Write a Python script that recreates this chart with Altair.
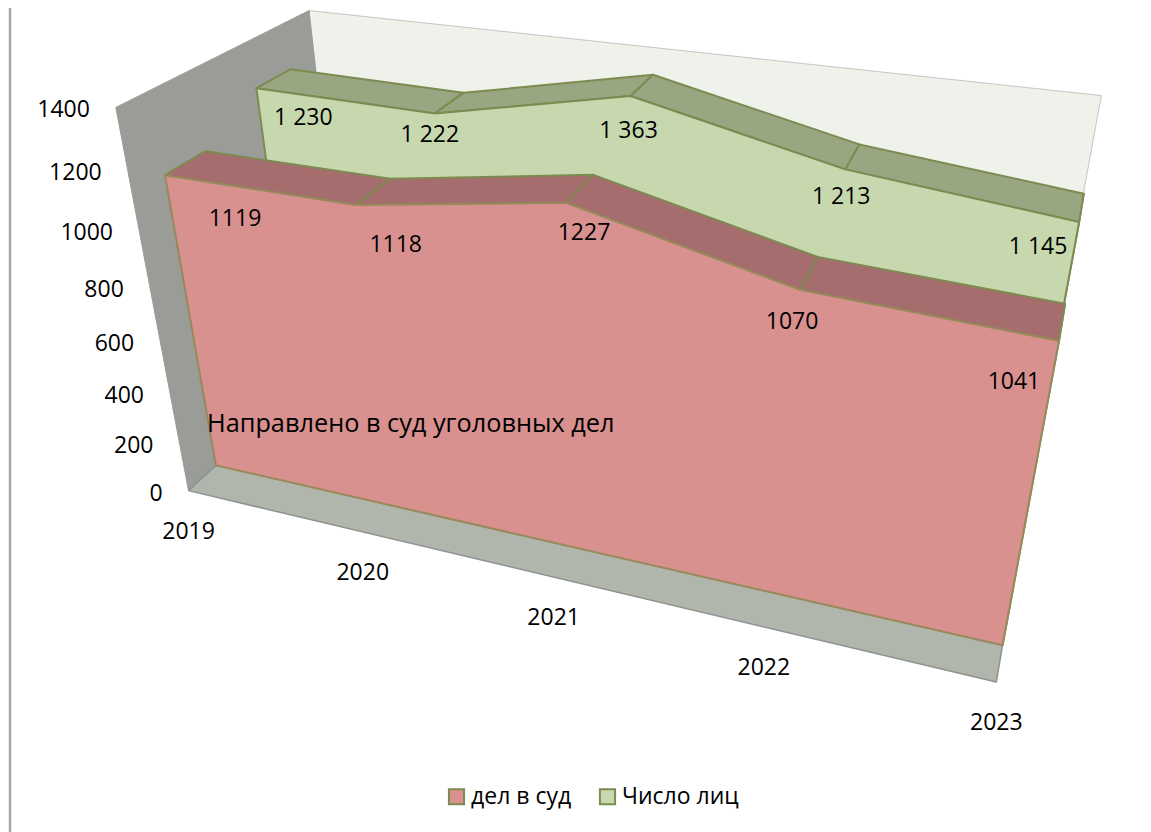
import altair as alt, numpy as np, pandas as pd

YEARS = ["2019", "2020", "2021", "2022", "2023"]
CASES = [1119, 1118, 1227, 1070, 1041]
PERSONS = [1230, 1222, 1363, 1213, 1145]
AXIS_TICKS = [0, 200, 400, 600, 800, 1000, 1200, 1400]
SERIES = ["дел в суд", "Число лиц"]
NOTE = "Направлено в суд уголовных дел"

# camera of the 3-D view: (year index, value/1000, depth) -> page pixels
CAMERA = np.array([
    [153.947, -62.2271, 43.4232, 215.921],
    [17.4796, -277.071, -15.7078, 465.369],
    [-0.0425992, -0.101225, 0.0366406, 1.0],
])
GAP = 0.75          # floor/wall margin, in series depths
GREEN_D = 1 + 2 * GAP
BACK_D = 2 + 3 * GAP

def proj(t, v, d):
    h = CAMERA @ np.array([t, v / 1000, d, 1.0])
    return h[0] / h[2], h[1] / h[2]

W, H = 1135, 824
xs = alt.Scale(domain=[8, 8 + W], range=[0, W], nice=False, zero=False)
ys = alt.Scale(domain=[8, 8 + H], range=[0, H], nice=False, zero=False)
X = alt.X("px:Q", scale=xs, axis=None)
Y = alt.Y("py:Q", scale=ys, axis=None)

EDGE = "#7d8a50"
RED, RED_TOP, GREEN, GREEN_TOP = "#d8918f", "#a66d6f", "#c8d8ae", "#98a681"

def poly(pts, fill, stroke, sw=2.0):
    rows = [dict(i=i, px=proj(*p)[0], py=proj(*p)[1]) for i, p in enumerate(pts + pts[:1])]
    return alt.Chart(pd.DataFrame(rows)).mark_line(
        fill=fill, stroke=stroke, strokeWidth=sw, strokeJoin="round"
    ).encode(x=X, y=Y, order="i:Q")

layers = [
    poly([(0, 0, BACK_D), (4, 0, BACK_D), (4, 1400, BACK_D), (0, 1400, BACK_D)], "#eef2ea", "#c4c6c2", 1),
    poly([(0, 0, -GAP), (0, 0, BACK_D), (0, 1400, BACK_D), (0, 1400, -GAP)], "#9a9c98", "#9a9c98", 1),
    poly([(0, 0, -GAP), (4, 0, -GAP), (4, 0, BACK_D), (0, 0, BACK_D)], "#b0b6ac", "#8f9290", 1.5),
]

def series(vals, d0, face, top, face_edge):
    out = [poly([(4, 0, d0), (4, vals[4], d0), (4, vals[4], d0 + 1), (4, 0, d0 + 1)], top, EDGE)]
    for i in range(4):
        out.append(poly([(i, vals[i], d0), (i + 1, vals[i + 1], d0),
                         (i + 1, vals[i + 1], d0 + 1), (i, vals[i], d0 + 1)], top, EDGE))
    pts = [(0, 0, d0)] + [(i, vals[i], d0) for i in range(5)] + [(4, 0, d0)]
    out.append(poly(pts, face, face_edge))
    return out

layers += series(PERSONS, GREEN_D, GREEN, GREEN_TOP, EDGE)
layers += series(CASES, 0, RED, RED_TOP, "#97895a")

FONT = "Open Sans"
FS = 23

def text(rows, **kw):
    return alt.Chart(pd.DataFrame(rows)).mark_text(
        font=FONT, fontSize=FS, color="#000", baseline="middle", **kw
    ).encode(x=X, y=Y, text="s:N")

tick = [dict(px=proj(0, v, -GAP)[0] - 26, py=proj(0, v, -GAP)[1] + 3, s=str(v)) for v in AXIS_TICKS]
cat = [dict(px=proj(i, 0, -GAP)[0], py=proj(i, 0, -GAP)[1] + 41, s=YEARS[i]) for i in range(5)]
layers += [text(tick, align="right"), text(cat, align="center")]

RED_OFF = [(70, 44), (40, 40), (18, 30), (-8, 32), (-45, 41)]
GREEN_OFF = [(47, 30), (-5, 22), (-2, 35), (-4, 28), (-41, 25)]
rl = [dict(px=proj(i, CASES[i], 0)[0] + RED_OFF[i][0], py=proj(i, CASES[i], 0)[1] + RED_OFF[i][1],
           s=str(CASES[i])) for i in range(5)]
gl = [dict(px=proj(i, PERSONS[i], GREEN_D)[0] + GREEN_OFF[i][0], py=proj(i, PERSONS[i], GREEN_D)[1] + GREEN_OFF[i][1],
           s=f"{PERSONS[i]:,}".replace(",", " ")) for i in range(5)]
layers += [text(rl, align="center"), text(gl, align="center")]

layers.append(alt.Chart(pd.DataFrame({"s": [NOTE]})).mark_text(
    font=FONT, fontSize=25.3, align="left", baseline="middle", color="#000"
).encode(x=alt.value(199), y=alt.value(416), text="s:N"))

# sheet edge on the left
layers.append(alt.Chart(pd.DataFrame({"a": [0]})).mark_rule(color="#a6a6a6", strokeWidth=2.5).encode(
    x=alt.value(2), y=alt.value(0), y2=alt.value(H)))

leg = alt.Chart(pd.DataFrame({"s": SERIES, "px": [300, 300], "py": [300, 300]})).mark_point(
    filled=True, shape="square", size=0, opacity=0
).encode(
    x=X, y=Y,
    fill=alt.Fill("s:N", scale=alt.Scale(domain=SERIES, range=[RED, GREEN]),
                  legend=alt.Legend(title=None, orient="none", legendX=437, legendY=777,
                                    direction="horizontal", symbolType="square", symbolSize=230,
                                    symbolOpacity=1, symbolStrokeColor=EDGE, symbolStrokeWidth=2,
                                    labelFont=FONT, labelFontSize=FS, labelColor="#000",
                                    labelOffset=3, columnPadding=23)))
layers.append(leg)

chart = alt.layer(*layers).properties(
    width=W, height=H, padding=0, autosize=alt.AutoSizeParams(type="none")
).configure_view(stroke=None)
chart.save("out.html", embed_options={"renderer": "svg", "actions": False})
